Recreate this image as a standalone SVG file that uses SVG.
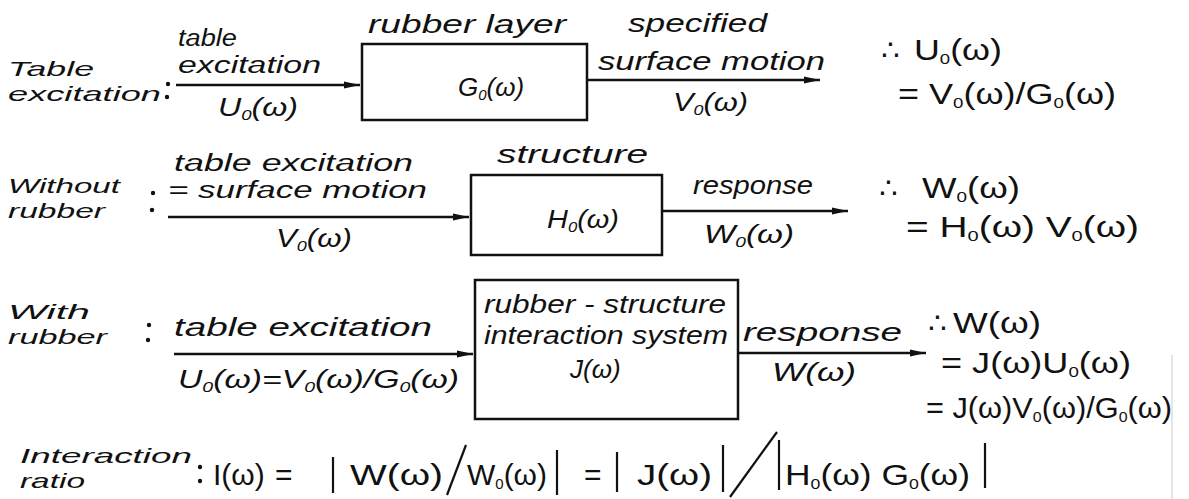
<svg xmlns="http://www.w3.org/2000/svg" width="1189" height="499" viewBox="0 0 1189 499">
<defs>
<marker id="ah" markerUnits="userSpaceOnUse" markerWidth="18" markerHeight="10" refX="16" refY="5" orient="auto">
<path d="M0,1.5 L16,5 L0,8.5 Z" fill="#111"/>
</marker>
<style>
text{font-family:"Liberation Sans","DejaVu Sans",sans-serif;fill:#111;font-size:26px}
.h{font-style:italic}
.l{font-size:21px}
.c{font-size:23px}
.m{font-size:29px}
.q{font-size:30px}
.s{font-size:15px}
.box{fill:none;stroke:#111;stroke-width:2.5}
.ln{stroke:#111;stroke-width:2.5;fill:none}
.bar{stroke:#111;stroke-width:2.2;fill:none}
</style>
</defs>
<rect width="1189" height="499" fill="#fff"/>

<g id="row1-label">
<text class="h l" x="8" y="76" textLength="86" lengthAdjust="spacingAndGlyphs">Table</text>
<text class="h l" x="8" y="101" textLength="153" lengthAdjust="spacingAndGlyphs">excitation</text>
<circle cx="168" cy="84" r="2.2" fill="#111"/><circle cx="167" cy="97" r="2.2" fill="#111"/>
</g>
<g id="node-G0">
<rect class="box" x="362" y="44" width="225" height="76"/>
<text class="h" x="368" y="33" textLength="198" lengthAdjust="spacingAndGlyphs">rubber layer</text>
<text class="h" x="458" y="96">G<tspan class="s" dy="4">0</tspan><tspan dy="-4">(ω)</tspan></text>
</g>
<g id="row1-result">
<text class="m" x="881" y="60">∴</text>
<text class="m" x="914" y="60" textLength="88" lengthAdjust="spacingAndGlyphs">U<tspan class="s" dy="4">0</tspan><tspan dy="-4">(ω)</tspan></text>
<text class="m" x="898" y="104" textLength="218" lengthAdjust="spacingAndGlyphs">= V<tspan class="s" dy="4">0</tspan><tspan dy="-4">(ω)/G</tspan><tspan class="s" dy="4">0</tspan><tspan dy="-4">(ω)</tspan></text>
</g>

<g id="row2-label">
<text class="h l" x="8" y="193" textLength="112" lengthAdjust="spacingAndGlyphs">Without</text>
<text class="h l" x="8" y="218" textLength="97" lengthAdjust="spacingAndGlyphs">rubber</text>
<circle cx="153" cy="193" r="2.2" fill="#111"/><circle cx="152" cy="210" r="2.2" fill="#111"/>
</g>
<g id="node-H0">
<rect class="box" x="471" y="175" width="191" height="80"/>
<text class="h" x="497" y="163" textLength="151" lengthAdjust="spacingAndGlyphs">structure</text>
<text class="h" x="547" y="228" textLength="72" lengthAdjust="spacingAndGlyphs">H<tspan class="s" dy="4">0</tspan><tspan dy="-4">(ω)</tspan></text>
</g>
<g id="row2-result">
<text class="m" x="879" y="198">∴</text>
<text class="m" x="922" y="198" textLength="98" lengthAdjust="spacingAndGlyphs">W<tspan class="s" dy="4">0</tspan><tspan dy="-4">(ω)</tspan></text>
<text class="m" x="906" y="237" textLength="233" lengthAdjust="spacingAndGlyphs">= H<tspan class="s" dy="4">0</tspan><tspan dy="-4">(ω) V</tspan><tspan class="s" dy="4">0</tspan><tspan dy="-4">(ω)</tspan></text>
</g>

<g id="row3-label">
<text class="h l" x="8" y="319" textLength="82" lengthAdjust="spacingAndGlyphs">With</text>
<text class="h l" x="8" y="344" textLength="99" lengthAdjust="spacingAndGlyphs">rubber</text>
<circle cx="149" cy="325" r="2.2" fill="#111"/><circle cx="148" cy="340" r="2.2" fill="#111"/>
</g>
<g id="node-J">
<rect class="box" x="475" y="280" width="263" height="139"/>
<text class="h" x="484" y="313" textLength="242" lengthAdjust="spacingAndGlyphs">rubber - structure</text>
<text class="h" x="484" y="344" textLength="244" lengthAdjust="spacingAndGlyphs">interaction system</text>
<text class="h" x="570" y="378">J(ω)</text>
</g>
<g id="row3-result">
<text class="m" x="928" y="333">∴</text>
<text class="m" x="953" y="333" textLength="88" lengthAdjust="spacingAndGlyphs">W(ω)</text>
<text class="m" x="941" y="373" textLength="190" lengthAdjust="spacingAndGlyphs">= J(ω)U<tspan class="s" dy="4">0</tspan><tspan dy="-4">(ω)</tspan></text>
<text class="m" x="926" y="418" textLength="246" lengthAdjust="spacingAndGlyphs">= J(ω)V<tspan class="s" dy="4">0</tspan><tspan dy="-4">(ω)/G</tspan><tspan class="s" dy="4">0</tspan><tspan dy="-4">(ω)</tspan></text>
</g>

<g id="connectors">
<line class="ln" x1="176" y1="85" x2="360" y2="85" marker-end="url(#ah)"/>
<line class="ln" x1="587" y1="80" x2="820" y2="80" marker-end="url(#ah)"/>
<line class="ln" x1="168" y1="217" x2="469" y2="217" marker-end="url(#ah)"/>
<line class="ln" x1="662" y1="211" x2="848" y2="211" marker-end="url(#ah)"/>
<line class="ln" x1="174" y1="354" x2="473" y2="354" marker-end="url(#ah)"/>
<line class="ln" x1="738" y1="353" x2="926" y2="353" marker-end="url(#ah)"/>
</g>
<g id="connector-labels">
<text class="h c" x="178" y="46" textLength="59" lengthAdjust="spacingAndGlyphs">table</text>
<text class="h c" x="178" y="73" textLength="143" lengthAdjust="spacingAndGlyphs">excitation</text>
<text class="h" x="218" y="116" textLength="80" lengthAdjust="spacingAndGlyphs">U<tspan class="s" dy="4">0</tspan><tspan dy="-4">(ω)</tspan></text>
<text class="h" x="628" y="32" textLength="139" lengthAdjust="spacingAndGlyphs">specified</text>
<text class="h" x="598" y="70" textLength="227" lengthAdjust="spacingAndGlyphs">surface motion</text>
<text class="h" x="673" y="111" textLength="75" lengthAdjust="spacingAndGlyphs">V<tspan class="s" dy="4">0</tspan><tspan dy="-4">(ω)</tspan></text>
<text class="h c" x="174" y="171" textLength="239" lengthAdjust="spacingAndGlyphs">table excitation</text>
<text class="h c" x="168" y="198" textLength="259" lengthAdjust="spacingAndGlyphs">= surface motion</text>
<text class="h" x="276" y="247" textLength="76" lengthAdjust="spacingAndGlyphs">V<tspan class="s" dy="4">0</tspan><tspan dy="-4">(ω)</tspan></text>
<text class="h" x="693" y="194" textLength="120" lengthAdjust="spacingAndGlyphs">response</text>
<text class="h" x="704" y="243" textLength="90" lengthAdjust="spacingAndGlyphs">W<tspan class="s" dy="4">0</tspan><tspan dy="-4">(ω)</tspan></text>
<text class="h" x="174" y="336" textLength="258" lengthAdjust="spacingAndGlyphs">table excitation</text>
<text class="h" x="178" y="388" textLength="281" lengthAdjust="spacingAndGlyphs">U<tspan class="s" dy="4">0</tspan><tspan dy="-4">(ω)=V</tspan><tspan class="s" dy="4">0</tspan><tspan dy="-4">(ω)/G</tspan><tspan class="s" dy="4">0</tspan><tspan dy="-4">(ω)</tspan></text>
<text class="h" x="743" y="341" textLength="159" lengthAdjust="spacingAndGlyphs">response</text>
<text class="h" x="772" y="381" textLength="84" lengthAdjust="spacingAndGlyphs">W(ω)</text>
</g>

<g id="interaction-ratio">
<text class="h l" x="20" y="463" textLength="172" lengthAdjust="spacingAndGlyphs">Interaction</text>
<text class="h l" x="20" y="488" textLength="65" lengthAdjust="spacingAndGlyphs">ratio</text>
<circle cx="200" cy="467" r="2.2" fill="#111"/><circle cx="200" cy="481" r="2.2" fill="#111"/>
<text class="q" x="213" y="485">I(ω)</text>
<text class="q" x="275" y="485">=</text>
<line class="bar" x1="333" y1="457" x2="333" y2="493"/>
<text class="q" x="350" y="485" textLength="93" lengthAdjust="spacingAndGlyphs">W(ω)</text>
<line class="bar" x1="447" y1="495" x2="466" y2="445"/>
<text class="q" x="467" y="485" textLength="80" lengthAdjust="spacingAndGlyphs">W<tspan class="s" dy="4">0</tspan><tspan dy="-4">(ω)</tspan></text>
<line class="bar" x1="557" y1="450" x2="557" y2="495"/>
<text class="q" x="584" y="485">=</text>
<line class="bar" x1="617" y1="452" x2="617" y2="492"/>
<text class="q" x="637" y="485" textLength="75" lengthAdjust="spacingAndGlyphs">J(ω)</text>
<line class="bar" x1="723" y1="445" x2="723" y2="492"/>
<line class="bar" x1="730" y1="497" x2="777" y2="432"/>
<line class="bar" x1="779" y1="440" x2="779" y2="490"/>
<text class="q" x="785" y="485" textLength="185" lengthAdjust="spacingAndGlyphs">H<tspan class="s" dy="4">0</tspan><tspan dy="-4">(ω) G</tspan><tspan class="s" dy="4">0</tspan><tspan dy="-4">(ω)</tspan></text>
<line class="bar" x1="985" y1="443" x2="985" y2="488"/>
</g>
<line x1="1172" y1="355" x2="1172" y2="499" stroke="#ddd" stroke-width="1.5"/>
</svg>
